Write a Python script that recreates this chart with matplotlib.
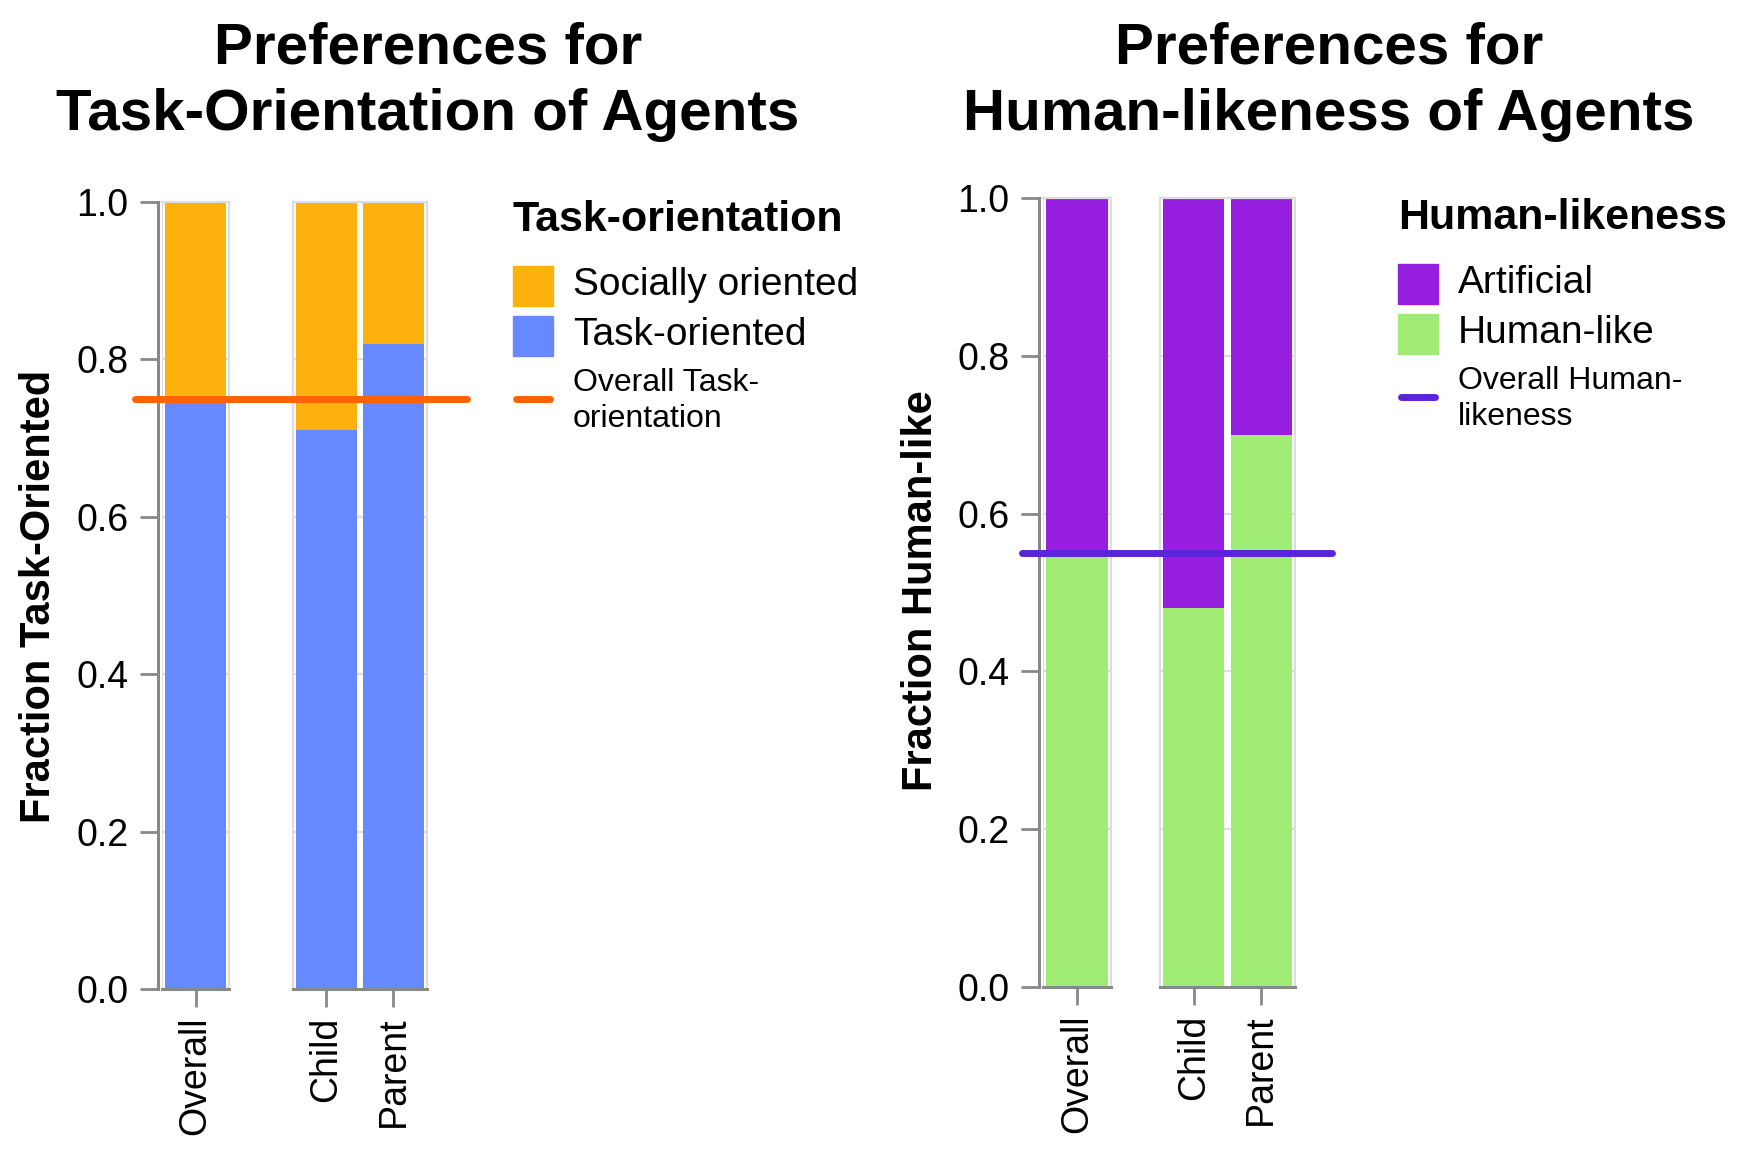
import matplotlib
matplotlib.use('Agg')
import matplotlib.pyplot as plt
from matplotlib.patches import Rectangle
from matplotlib.lines import Line2D
from matplotlib import transforms
import numpy as np

plt.rcParams['font.family'] = ['Liberation Sans', 'DejaVu Sans']

# Data
overall_cat = ['Overall']
group_cats = ['Child', 'Parent']

task_oriented_overall = [0.75]
socially_oriented_overall = [0.25]
task_oriented_groups = [0.71, 0.82]
socially_oriented_groups = [0.29, 0.18]
overall_task_rule = 0.75

human_like_overall = [0.55]
artificial_overall = [0.45]
human_like_groups = [0.48, 0.70]
artificial_groups = [0.52, 0.30]
overall_human_rule = 0.55

task_labels = ['Socially oriented', 'Task-oriented']
human_labels = ['Artificial', 'Human-like']

# Colours
c_social = '#FCB10C'
c_task = '#6689FF'
c_task_rule = '#FF6300'
c_artificial = '#961EDE'
c_human = '#A1EC74'
c_human_rule = '#5B24DB'
grid_c = '#dddddd'
axis_c = '#888888'

W, H = 1740, 1156
fig = plt.figure(figsize=(W / 100, H / 100), dpi=100)


def rect(x0, y0, x1, y1):
    # pixel box (top-left origin) -> figure fraction
    return [x0 / W, 1 - y1 / H, (x1 - x0) / W, (y1 - y0) / H]


def panel(box, cats, lower, upper, c_low, c_up, first):
    ax = fig.add_axes(rect(*box))
    ax.set_facecolor('none')
    x = np.arange(len(cats))
    ax.bar(x, lower, width=0.9, color=c_low, zorder=2)
    ax.bar(x, upper, bottom=lower, width=0.9, color=c_up, zorder=2)
    ax.set_xlim(-0.5, len(cats) - 0.5)
    ax.set_ylim(0, 1)
    ax.set_yticks(np.arange(0, 1.01, 0.2))
    ax.yaxis.grid(True, color=grid_c, linewidth=1.6, zorder=0)
    ax.set_axisbelow(True)
    for s in ['top', 'right', 'left']:
        ax.spines[s].set_color(grid_c)
        ax.spines[s].set_linewidth(1.6)
    ax.spines['bottom'].set_color(axis_c)
    ax.spines['bottom'].set_linewidth(2.2)
    ax.set_xticks(x)
    ax.set_xticklabels(cats, rotation=90, fontsize=27)
    ax.tick_params(axis='x', length=13, width=2, color=axis_c, pad=7)
    if first:
        ax.axvline(-0.5, color=grid_c, linewidth=1.6, zorder=1)
        ax.spines['left'].set_position(('outward', 3))
        ax.spines['left'].set_color(axis_c)
        ax.spines['left'].set_linewidth(2.2)
        ax.set_yticklabels(['%.1f' % v for v in np.arange(0, 1.01, 0.2)], fontsize=27)
        ax.tick_params(axis='y', length=13, width=2, color=axis_c, pad=8)
    else:
        ax.tick_params(axis='y', left=False, labelleft=False)
    return ax


def rule(ax, x0, x1, y, color):
    tr = transforms.blended_transform_factory(fig.transFigure, ax.transData)
    ax.add_line(Line2D([x0 / W, x1 / W], [y, y], transform=tr, color=color,
                       linewidth=5, solid_capstyle='round', clip_on=False, zorder=5))


def legend(x, ytitle, title, labels, colors, rule_label, rule_color):
    fig.text(x / W, 1 - ytitle / H, title, fontsize=31, fontweight='bold',
             ha='left', va='center')
    for i, (lab, c) in enumerate(zip(labels, colors)):
        y0 = ytitle + 46 + i * 50
        fig.patches.append(Rectangle((x / W, 1 - (y0 + 40) / H), 40 / W, 40 / H,
                                     transform=fig.transFigure, color=c))
        fig.text((x + 60) / W, 1 - (y0 + 19) / H, lab, fontsize=28,
                 ha='left', va='center')
    yl = ytitle + 179
    fig.lines.append(Line2D([(x + 3) / W, (x + 37) / W], [1 - yl / H, 1 - yl / H],
                            transform=fig.transFigure, color=rule_color,
                            linewidth=5, solid_capstyle='round'))
    fig.text((x + 60) / W, 1 - (yl - 16) / H, rule_label[0], fontsize=23,
             ha='left', va='center')
    fig.text((x + 60) / W, 1 - (yl + 20) / H, rule_label[1], fontsize=23,
             ha='left', va='center')


# Left chart: task orientation
axL1 = panel((162, 202, 229, 989), overall_cat, task_oriented_overall,
             socially_oriented_overall, c_task, c_social, True)
axL2 = panel((293, 202, 427, 989), group_cats, task_oriented_groups,
             socially_oriented_groups, c_task, c_social, False)
rule(axL2, 135, 467, overall_task_rule, c_task_rule)
fig.text(39 / W, 1 - 596 / H, 'Fraction Task-Oriented', rotation=90, fontsize=30,
         fontweight='bold', ha='center', va='center')
fig.text(428 / W, 1 - 48 / H, 'Preferences for', fontsize=42, fontweight='bold',
         ha='center', va='center')
fig.text(428 / W, 1 - 115 / H, 'Task-Orientation of Agents', fontsize=42,
         fontweight='bold', ha='center', va='center')
legend(513, 220, 'Task-orientation', task_labels, [c_social, c_task],
       ['Overall Task-', 'orientation'], c_task_rule)

# Right chart: human-likeness
axR1 = panel((1043, 198, 1111, 987), overall_cat, human_like_overall,
             artificial_overall, c_human, c_artificial, True)
axR2 = panel((1160, 198, 1295, 987), group_cats, human_like_groups,
             artificial_groups, c_human, c_artificial, False)
rule(axR2, 1022, 1332, overall_human_rule, c_human_rule)
fig.text(921 / W, 1 - 591 / H, 'Fraction Human-like', rotation=90, fontsize=30,
         fontweight='bold', ha='center', va='center')
fig.text(1329 / W, 1 - 48 / H, 'Preferences for', fontsize=42, fontweight='bold',
         ha='center', va='center')
fig.text(1329 / W, 1 - 115 / H, 'Human-likeness of Agents', fontsize=42,
         fontweight='bold', ha='center', va='center')
legend(1398, 218, 'Human-likeness', human_labels, [c_artificial, c_human],
       ['Overall Human-', 'likeness'], c_human_rule)

fig.savefig('out.png', dpi=100)
